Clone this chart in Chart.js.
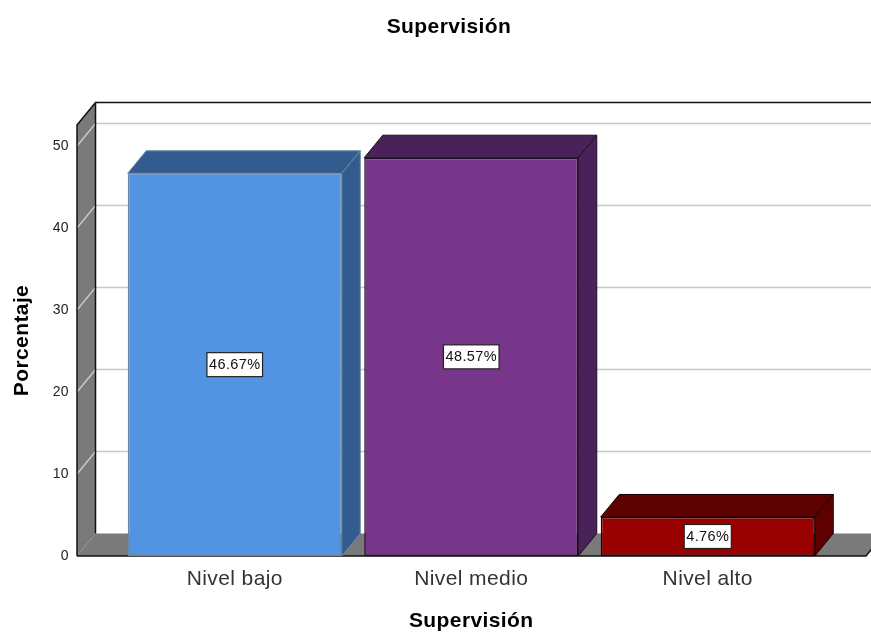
<!DOCTYPE html>
<html>
<head>
<meta charset="utf-8">
<title>Supervisión</title>
<script src="https://cdn.jsdelivr.net/npm/chart.js@4/dist/chart.umd.min.js"></script>
<style>
  html, body { margin: 0; padding: 0; background: #fff; }
  #wrap { width: 871px; height: 632px; overflow: hidden; }
</style>
</head>
<body>
<div id="wrap"><canvas id="chart" width="871" height="632"></canvas></div>
<script>
var categories = ['Nivel bajo', 'Nivel medio', 'Nivel alto'];
var porcentajes = [46.67, 48.57, 4.76];
var frontColors = ['#5294e2', '#77368a', '#990000'];
var darkColors = ['#335c8e', '#4a2159', '#5c0000'];
var edgeColors = ['#6b87aa', '#1a1020', '#1a0000'];
var titleText = 'Supervisión';
var yTitle = 'Porcentaje';
var yMax = 52.56;
var yStep = 10;

// depth of the fake 3D box
var DX = 18.5, DY = 22.5;
var FONT = '"Liberation Sans", Arial, sans-serif';

function poly(ctx, pts, fill, stroke, lw) {
  ctx.beginPath();
  pts.forEach(function (p, i) { if (i) ctx.lineTo(p[0], p[1]); else ctx.moveTo(p[0], p[1]); });
  ctx.closePath();
  if (fill) { ctx.fillStyle = fill; ctx.fill(); }
  if (stroke) { ctx.strokeStyle = stroke; ctx.lineWidth = lw || 1; ctx.stroke(); }
}

// walls, floor and back grid
var boxPlugin = {
  id: 'box',
  beforeDraw: function (chart) {
    // all labels are slightly tracked out
    chart.ctx.letterSpacing = '0.4px';
  },
  beforeDatasetsDraw: function (chart) {
    var ctx = chart.ctx, y = chart.scales.y, area = chart.chartArea;
    var left = area.left - 39.5, right = area.right + 40;
    var top = area.top, bottom = area.bottom;
    ctx.save();
    poly(ctx, [[left, top], [left + DX, top - DY], [left + DX, bottom - DY], [left, bottom]], '#7a7a7a');
    poly(ctx, [[left, bottom], [left + DX, bottom - DY], [right + DX, bottom - DY], [right, bottom]], '#7a7a7a');

    y.ticks.forEach(function (t) {
      if (t.value === 0) return;
      var py = y.getPixelForValue(t.value);
      ctx.strokeStyle = '#c8c8c8';
      ctx.lineWidth = 1.5;
      ctx.beginPath();
      ctx.moveTo(left, py);
      ctx.lineTo(left + DX, py - DY);
      ctx.lineTo(chart.width, py - DY);
      ctx.stroke();
    });

    ctx.strokeStyle = '#111';
    ctx.lineWidth = 1.5;
    ctx.beginPath();
    ctx.moveTo(left, bottom);
    ctx.lineTo(left, top);
    ctx.lineTo(left + DX, top - DY);
    ctx.lineTo(chart.width, top - DY);
    ctx.moveTo(left + DX, top - DY);
    ctx.lineTo(left + DX, bottom - DY);
    ctx.moveTo(left, bottom);
    ctx.lineTo(right, bottom);
    ctx.lineTo(right + DX, bottom - DY);
    ctx.stroke();
    ctx.restore();
  },
  // top and side faces of each bar, then the value boxes
  afterDatasetsDraw: function (chart) {
    var ctx = chart.ctx;
    var bars = chart.getDatasetMeta(0).data;
    ctx.save();
    bars.forEach(function (bar, i) {
      var half = bar.width / 2;
      var x0 = bar.x - half, x1 = bar.x + half;
      poly(ctx, [[x0, bar.y], [x0 + DX, bar.y - DY], [x1 + DX, bar.y - DY], [x1, bar.y]], darkColors[i], edgeColors[i], 1);
      poly(ctx, [[x1, bar.y], [x1 + DX, bar.y - DY], [x1 + DX, bar.base - DY], [x1, bar.base]], darkColors[i], edgeColors[i], 1);
    });
    ctx.font = '14.5px ' + FONT;
    ctx.textAlign = 'center';
    ctx.textBaseline = 'middle';
    bars.forEach(function (bar, i) {
      var text = porcentajes[i].toFixed(2) + '%';
      var cy = (bar.y + bar.base) / 2;
      var w = ctx.measureText(text).width + 4;
      ctx.fillStyle = '#fff';
      ctx.fillRect(bar.x - w / 2, cy - 12, w, 24);
      ctx.strokeStyle = '#222';
      ctx.lineWidth = 1.2;
      ctx.strokeRect(bar.x - w / 2, cy - 12, w, 24);
      ctx.fillStyle = '#111';
      ctx.fillText(text, bar.x, cy + 0.5);
    });
    // heading sits off the plot centre, so it is placed here and not by the title plugin
    ctx.font = 'bold 21px ' + FONT;
    ctx.fillStyle = '#000';
    ctx.fillText(titleText, 449, 27);
    ctx.restore();
  }
};

new Chart(document.getElementById('chart').getContext('2d'), {
  type: 'bar',
  data: {
    labels: categories,
    datasets: [{
      label: titleText,
      data: porcentajes,
      backgroundColor: frontColors,
      borderColor: edgeColors,
      borderWidth: 1.5,
      borderSkipped: false,
      categoryPercentage: 1,
      barPercentage: 0.905
    }]
  },
  options: {
    responsive: false,
    animation: false,
    layout: { padding: { top: 125, right: 45, bottom: 0, left: 0 } },
    plugins: { legend: { display: false }, tooltip: { enabled: false } },
    scales: {
      x: {
        grid: { display: false, drawTicks: false },
        border: { display: false },
        ticks: { color: '#333', font: { family: FONT, size: 21 }, padding: 11, maxRotation: 0 },
        title: { display: true, text: titleText, color: '#000', font: { family: FONT, size: 21, weight: 'bold' }, padding: { top: 14, bottom: -2 } },
        afterFit: function (s) { s.height = 76; }
      },
      y: {
        min: 0,
        max: yMax,
        grid: { display: false, drawTicks: false },
        border: { display: false },
        ticks: { stepSize: yStep, includeBounds: false, color: '#222', font: { family: FONT, size: 14 }, padding: 47.5 },
        title: { display: true, text: yTitle, color: '#000', font: { family: FONT, size: 21, weight: 'bold' }, padding: { top: 10, bottom: 0 } },
        afterFit: function (s) { s.width = 116.5; }
      }
    }
  },
  plugins: [boxPlugin]
});
</script>
</body>
</html>
